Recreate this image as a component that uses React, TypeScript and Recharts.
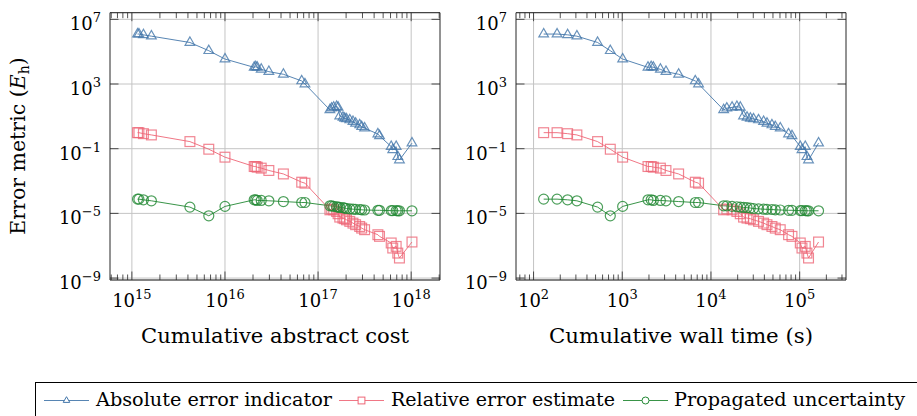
import React from 'react';
import { LineChart, Line, XAxis, YAxis, CartesianGrid, ReferenceLine, ReferenceArea } from 'recharts';

// ---------- data ----------
const costX = [1.15e15, 1.19e15, 1.33e15, 1.62e15, 4.2e15, 6.7e15, 1.0e16, 2.06e16, 2.14e16, 2.22e16, 2.45e16, 2.96e16, 4.24e16, 6.67e16, 7.23e16,
  1.34e17, 1.40e17, 1.47e17, 1.58e17, 1.64e17, 1.71e17, 1.85e17, 1.93e17, 2.02e17, 2.19e17, 2.37e17, 2.53e17, 2.80e17, 2.94e17, 3.16e17,
  4.39e17, 4.57e17, 6.10e17, 6.34e17, 6.90e17, 7.18e17, 7.48e17, 1.02e18];
const wallX = [130, 184, 242, 308, 527, 733, 1010, 1950, 2120, 2240, 2690, 3110, 4320, 6660, 7250,
  13900, 15100, 17300, 19600, 21400, 23300, 25500, 27800, 30200, 34400, 39200, 42800, 48700, 53100, 60400,
  75000, 81900, 101600, 106200, 115600, 120800, 125900, 163300];
const absErr = [1.23e6, 1.23e6, 1.10e6, 9.1e5, 3.7e5, 1.15e5, 3.5e4, 1.07e4, 1.17e4, 1.07e4, 8.1e3, 5.8e3, 4.0e3, 1.55e3, 1.0e3,
  25, 32, 36, 40, 36, 10.5, 8.7, 7.6, 6.9, 6.0, 4.7, 3.7, 2.95, 2.3, 1.86,
  0.81, 0.62, 0.135, 0.085, 0.135, 0.032, 0.020, 0.22];
const relErr = [0.98, 0.98, 0.85, 0.71, 0.275, 0.093, 0.030, 7.9e-3, 7.9e-3, 7.2e-3, 6.3e-3, 4.5e-3, 2.75e-3, 8.5e-4, 7.4e-4,
  1.66e-5, 1.86e-5, 1.66e-5, 1.32e-5, 9.5e-6, 5.9e-6, 5.1e-6, 4.7e-6, 4.0e-6, 3.2e-6, 2.5e-6, 2.0e-6, 1.55e-6, 1.23e-6, 9.8e-7,
  4.8e-7, 3.8e-7, 1.48e-7, 7.2e-8, 9.1e-8, 3.5e-8, 1.74e-8, 1.7e-7];
const uncert = [7.6e-5, 7.6e-5, 6.9e-5, 6.0e-5, 2.45e-5, 7.1e-6, 2.7e-5, 6.9e-5, 6.9e-5, 6.3e-5, 6.3e-5, 6.0e-5, 5.4e-5, 4.7e-5, 4.7e-5,
  2.95e-5, 2.9e-5, 2.7e-5, 2.57e-5, 2.45e-5, 2.34e-5, 2.24e-5, 2.14e-5, 2.0e-5, 1.9e-5, 1.82e-5, 1.78e-5, 1.74e-5, 1.66e-5, 1.62e-5,
  1.55e-5, 1.55e-5, 1.48e-5, 1.48e-5, 1.48e-5, 1.45e-5, 1.45e-5, 1.45e-5];

const yTicks = [1e-9, 1e-5, 1e-1, 1e3, 1e7];
const yTickLabels = ['\u22129', '\u22125', '\u22121', '3', '7'];
const costTicks = [1e15, 1e16, 1e17, 1e18];
const costTickLabels = ['15', '16', '17', '18'];
const wallTicks = [1e2, 1e3, 1e4, 1e5];
const wallTickLabels = ['2', '3', '4', '5'];
const costMinorDecades = [1e14, 1e15, 1e16, 1e17, 1e18];
const wallMinorDecades = [1e1, 1e2, 1e3, 1e4, 1e5];
const minorMult = [2, 3, 4, 5, 6, 7, 8, 9];

const costDomain: [number, number] = [5.82e14, 2.04e18];
const wallDomain: [number, number] = [63.4, 3.33e5];
const yDomain: [number, number] = [7.6e-10, 2.57e7];

const costData = costX.map((x, i) => ({ x, abs: absErr[i], rel: relErr[i], unc: uncert[i] }));
const wallData = wallX.map((x, i) => ({ x, abs: absErr[i], rel: relErr[i], unc: uncert[i] }));

// ---------- style ----------
const FONT = '"DejaVu Serif", serif';
const BLUE = '#4477AA';
const RED = '#EE6677';
const GREEN = '#228833';
const AXC = '#262626';
const GRID = '#c4c4c4';

const CH = 330;
const MT = 12.7;
const XH = 50;
const PH = CH - MT - XH;
const PW = 330;

function allTicks(majors: number[], decades: number[], domain: [number, number]) {
  const minors: number[] = [];
  decades.forEach((d) => minorMult.forEach((m) => minors.push(m * d)));
  return [...majors, ...minors].filter((v) => v >= domain[0] && v <= domain[1]).sort((a, b) => a - b);
}

function makeXTick(majors: number[], labels: string[]) {
  return (props: any) => {
    const { x, y, payload } = props;
    const idx = majors.findIndex((m) => Math.abs(m - payload.value) / m < 1e-9);
    const major = idx >= 0;
    const len = major ? 8.5 : 5.5;
    return (
      <g key={`xt-${payload.value}`}>
        <line x1={x} x2={x} y1={y} y2={y - len} stroke={AXC} strokeWidth={0.8} />
        <line x1={x} x2={x} y1={y - PH} y2={y - PH + len} stroke={AXC} strokeWidth={0.8} />
        {major && (
          <text x={x} y={y + 27} textAnchor="middle" fontFamily={FONT} fontSize={18} fill="#000">
            10<tspan dy={-8} fontSize={13}>{labels[idx]}</tspan>
          </text>
        )}
      </g>
    );
  };
}

const YTick = (props: any) => {
  const { x, y, payload } = props;
  const idx = yTicks.findIndex((m) => Math.abs(m - payload.value) / m < 1e-9);
  return (
    <g key={`yt-${payload.value}`}>
      <line x1={x} x2={x + 8.5} y1={y} y2={y} stroke={AXC} strokeWidth={0.8} />
      <line x1={x + PW - 8.5} x2={x + PW} y1={y} y2={y} stroke={AXC} strokeWidth={0.8} />
      <text x={x - 9} y={y + 11} textAnchor="end" fontFamily={FONT} fontSize={18} fill="#000">
        10<tspan dy={-8} fontSize={13}>{yTickLabels[idx]}</tspan>
      </text>
    </g>
  );
};

const MO = 0.8;
const MW = 1.2;
const triangleDot = (p: any) => {
  const { cx, cy, index } = p;
  const R = 5.6;
  const pts = `${cx},${cy - R} ${cx - R * 0.866},${cy + R / 2} ${cx + R * 0.866},${cy + R / 2}`;
  return <polygon key={`t${index}`} points={pts} fill="none" stroke={BLUE} strokeWidth={MW} strokeOpacity={MO} />;
};
const squareDot = (p: any) => {
  const { cx, cy, index } = p;
  const h = 4.9;
  return <rect key={`s${index}`} x={cx - h} y={cy - h} width={2 * h} height={2 * h} fill="none" stroke={RED} strokeWidth={MW} strokeOpacity={MO} />;
};
const circleDot = (p: any) => {
  const { cx, cy, index } = p;
  return <circle key={`c${index}`} cx={cx} cy={cy} r={5} fill="none" stroke={GREEN} strokeWidth={MW} strokeOpacity={MO} />;
};

function Panel(props: { data: any[]; domain: [number, number]; majors: number[]; labels: string[]; decades: number[]; width: number; yw: number; mr: number }) {
  const { data, domain, majors, labels, decades, width, yw, mr } = props;
  const xt = allTicks(majors, decades, domain);
  return (
    <LineChart width={width} height={CH} data={data} margin={{ top: MT, right: mr, bottom: 0, left: 0 }}>
      <CartesianGrid vertical={false} stroke={GRID} strokeWidth={1} strokeDasharray="" />
      {majors.map((v) => (
        <ReferenceLine key={`g${v}`} x={v} stroke={GRID} strokeWidth={1} zIndex={-90} />
      ))}
      <XAxis dataKey="x" type="number" scale="log" domain={domain} allowDataOverflow ticks={xt} interval={0}
        tick={makeXTick(majors, labels)} tickLine={false} axisLine={false} tickSize={0} tickMargin={0} height={XH} />
      <YAxis type="number" scale="log" domain={yDomain} allowDataOverflow ticks={yTicks} interval={0}
        tick={YTick} tickLine={false} axisLine={false} tickSize={0} tickMargin={0} width={yw} />
      <Line dataKey="abs" stroke={BLUE} strokeWidth={0.9} dot={triangleDot} activeDot={false} isAnimationActive={false} />
      <Line dataKey="rel" stroke={RED} strokeWidth={0.9} dot={squareDot} activeDot={false} isAnimationActive={false} />
      <Line dataKey="unc" stroke={GREEN} strokeWidth={0.9} dot={circleDot} activeDot={false} isAnimationActive={false} />
      <ReferenceArea x1={domain[0]} x2={domain[1]} y1={yDomain[0]} y2={yDomain[1]} fill="none" fillOpacity={0}
        stroke={AXC} strokeWidth={1} ifOverflow="visible" zIndex={1000} />
    </LineChart>
  );
}

function LegendIcon({ x, color, kind }: { x: number; color: string; kind: string }) {
  const cx = x + 22.5;
  const cy = 400.5;
  let mk: any = null;
  if (kind === 't') {
    const R = 3.8;
    mk = <polygon points={`${cx},${cy - R} ${cx - R * 0.866},${cy + R / 2} ${cx + R * 0.866},${cy + R / 2}`} fill="#fff" stroke={color} strokeWidth={1} />;
  } else if (kind === 's') {
    mk = <rect x={cx - 3.4} y={cy - 3.4} width={6.8} height={6.8} fill="#fff" stroke={color} strokeWidth={1} />;
  } else {
    mk = <circle cx={cx} cy={cy} r={3.5} fill="#fff" stroke={color} strokeWidth={1} />;
  }
  return (
    <g>
      <line x1={x} x2={x + 45} y1={cy} y2={cy} stroke={color} strokeWidth={0.9} />
      {mk}
    </g>
  );
}

export default function App() {
  return (
    <div style={{ position: 'absolute', left: 0, top: 0, width: 917, height: 416, overflow: 'hidden', background: '#fff' }}>
      <div style={{ position: 'absolute', left: 0, top: 0 }}>
        <Panel data={costData} domain={costDomain} majors={costTicks} labels={costTickLabels} decades={costMinorDecades} width={445} yw={110} mr={5} />
      </div>
      <div style={{ position: 'absolute', left: 450, top: 0 }}>
        <Panel data={wallData} domain={wallDomain} majors={wallTicks} labels={wallTickLabels} decades={wallMinorDecades} width={400} yw={66} mr={4} />
      </div>
      <svg width={917} height={416} style={{ position: 'absolute', left: 0, top: 0, pointerEvents: 'none' }}>
        <text transform="translate(25,146) rotate(-90)" textAnchor="middle" fontFamily={FONT} fontSize={20.5} fill="#000">
          Error metric (<tspan fontStyle="italic">E</tspan><tspan dy={4} fontSize={14}>h</tspan><tspan dy={-4}>)</tspan>
        </text>
        <text x={275} y={343} textAnchor="middle" fontFamily={FONT} fontSize={20.5} fill="#000" textLength={268} lengthAdjust="spacingAndGlyphs">Cumulative abstract cost</text>
        <text x={681} y={343} textAnchor="middle" fontFamily={FONT} fontSize={20.5} fill="#000" textLength={264} lengthAdjust="spacingAndGlyphs">Cumulative wall time (s)</text>
        <rect x={35.5} y={382.5} width={1000} height={60} fill="none" stroke="#000" strokeWidth={1} />
        <LegendIcon x={44} color={BLUE} kind="t" />
        <text x={96} y={406} fontFamily={FONT} fontSize={19} fill="#000" textLength={236} lengthAdjust="spacingAndGlyphs">Absolute error indicator</text>
        <LegendIcon x={339} color={RED} kind="s" />
        <text x={391} y={406} fontFamily={FONT} fontSize={19} fill="#000" textLength={224} lengthAdjust="spacingAndGlyphs">Relative error estimate</text>
        <LegendIcon x={623} color={GREEN} kind="c" />
        <text x={674} y={406} fontFamily={FONT} fontSize={19} fill="#000" textLength={231} lengthAdjust="spacingAndGlyphs">Propagated uncertainty</text>
      </svg>
    </div>
  );
}
